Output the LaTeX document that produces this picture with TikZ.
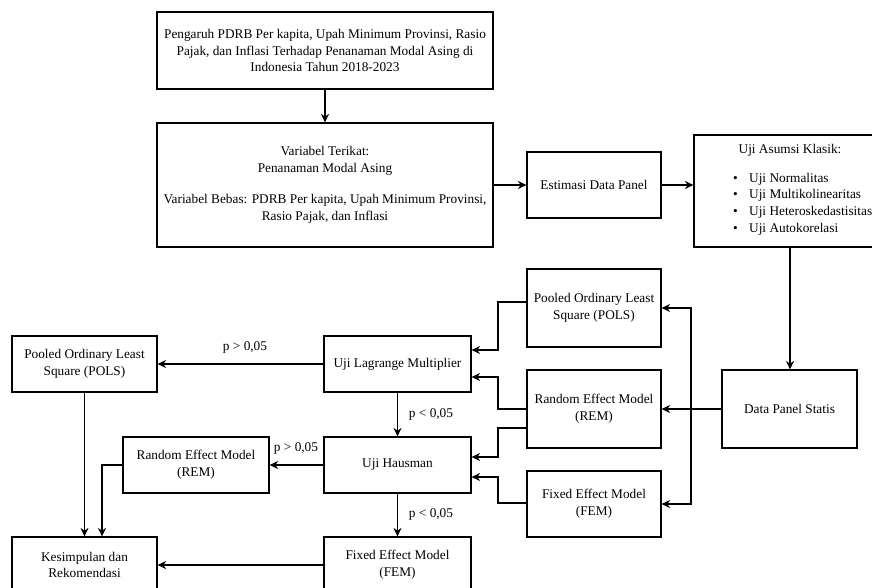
\documentclass[tikz,border=0pt]{standalone}
\usepackage{fontspec}
\setmainfont{Liberation Serif}
\usetikzlibrary{arrows.meta,calc}
\begin{document}
\begin{tikzpicture}[x=1pt,y=-1pt,
  box/.style={draw=black, line width=1.2pt, align=center, inner sep=2pt, font=\fontsize{13.3}{16.6}\selectfont},
  arr/.style={draw=black, line width=1.2pt, -{Stealth[length=8.5pt,width=8pt]}},
  lbl/.style={font=\fontsize{13.3}{16.6}\selectfont, inner sep=0pt}]
\useasboundingbox (0,0) rectangle (872,588);
\clip (0,0) rectangle (872,588);
% boxes
\node[box, minimum width=336pt, minimum height=77pt] (title) at (325,50.5)
  {Pengaruh PDRB Per kapita, Upah Minimum Provinsi, Rasio\\ Pajak, dan Inflasi Terhadap Penanaman Modal Asing di\\ Indonesia Tahun 2018-2023};
\node[box, minimum width=336pt, minimum height=124pt] (var) at (325,185)
  {Variabel Terikat:\\ Penanaman Modal Asing\\[15pt] Variabel Bebas: PDRB Per kapita, Upah Minimum Provinsi,\\ Rasio Pajak, dan Inflasi};
\node[box, minimum width=134pt, minimum height=66pt] (est) at (594,185) {Estimasi Data Panel};
\node[box, minimum width=192pt, minimum height=112pt] (asumsi) at (790,191) {};
\node[lbl] (asumsiT) at (790,150) {Uji Asumsi Klasik:};
\node[lbl, anchor=west, align=left] (asumsiL) at (733,204)
  {\makebox[16pt][l]{•}Uji Normalitas\\ \makebox[16pt][l]{•}Uji Multikolinearitas\\ \makebox[16pt][l]{•}Uji Heteroskedastisitas\\ \makebox[16pt][l]{•}Uji Autokorelasi};
\node[box, minimum width=135pt, minimum height=78pt] (dps) at (789.5,409) {Data Panel Statis};
\node[box, minimum width=134pt, minimum height=78pt] (polsM) at (594,308) {Pooled Ordinary Least\\ Square (POLS)};
\node[box, minimum width=134pt, minimum height=78pt] (remM) at (594,409) {Random Effect Model\\ (REM)};
\node[box, minimum width=134pt, minimum height=66pt] (femM) at (594,504) {Fixed Effect Model\\ (FEM)};
\node[box, minimum width=147pt, minimum height=56pt] (lm) at (397.5,364) {Uji Lagrange Multiplier};
\node[box, minimum width=147pt, minimum height=56pt] (haus) at (397.5,465) {Uji Hausman};
\node[box, minimum width=147pt, minimum height=56pt] (femL) at (397.5,565) {Fixed Effect Model\\ (FEM)};
\node[box, minimum width=145pt, minimum height=56pt] (polsL) at (84.5,364) {Pooled Ordinary Least\\ Square (POLS)};
\node[box, minimum width=146pt, minimum height=56pt] (remL) at (196,465) {Random Effect Model\\ (REM)};
\node[box, minimum width=145pt, minimum height=56pt] (kes) at (84.5,565) {Kesimpulan dan\\ Rekomendasi};
% labels
\node[lbl] (l1) at (245,347) {p > 0,05};
\node[lbl] (l2) at (431,414) {p < 0,05};
\node[lbl] (l3) at (296,448) {p > 0,05};
\node[lbl] (l4) at (431,514) {p < 0,05};
% helper coordinates
\coordinate (bus) at (691,409);
\coordinate (jx) at (498,0);
% connectors
\draw[arr] (title.south) -- (var.north);
\draw[arr] (var.east) -- (est.west);
\draw[arr] (est.east) -- (est.east -| asumsi.west);
\draw[arr] (asumsi.south) -- (asumsi.south |- dps.north);
\draw[arr] (dps.west) -- (remM.east);
\draw[arr] (bus) |- (polsM.east);
\draw[arr] (bus) |- (femM.east);
\draw[arr] ([yshift=6pt]polsM.west) -- ([yshift=6pt]polsM.west -| jx) |- ([yshift=14pt]lm.east);
\draw[arr] (remM.west) -- (remM.west -| jx) |- ([yshift=-13pt]lm.east);
\draw[arr] ([yshift=-19pt]remM.west) -- ([yshift=-19pt]remM.west -| jx) |- ([yshift=8pt]haus.east);
\draw[arr] ([yshift=1pt]femM.west) -- ([yshift=1pt]femM.west -| jx) |- ([yshift=-12pt]haus.east);
\draw[arr] (lm.west) -- (polsL.east);
\draw[arr] (lm.south) -- (haus.north);
\draw[arr] (haus.west) -- (remL.east);
\draw[arr] (haus.south) -- (femL.north);
\draw[arr] (femL.west) -- (kes.east);
\draw[arr] (polsL.south) -- (kes.north);
\draw[arr] (remL.west) -| ([xshift=17.5pt]kes.north);
\end{tikzpicture}
\end{document}
